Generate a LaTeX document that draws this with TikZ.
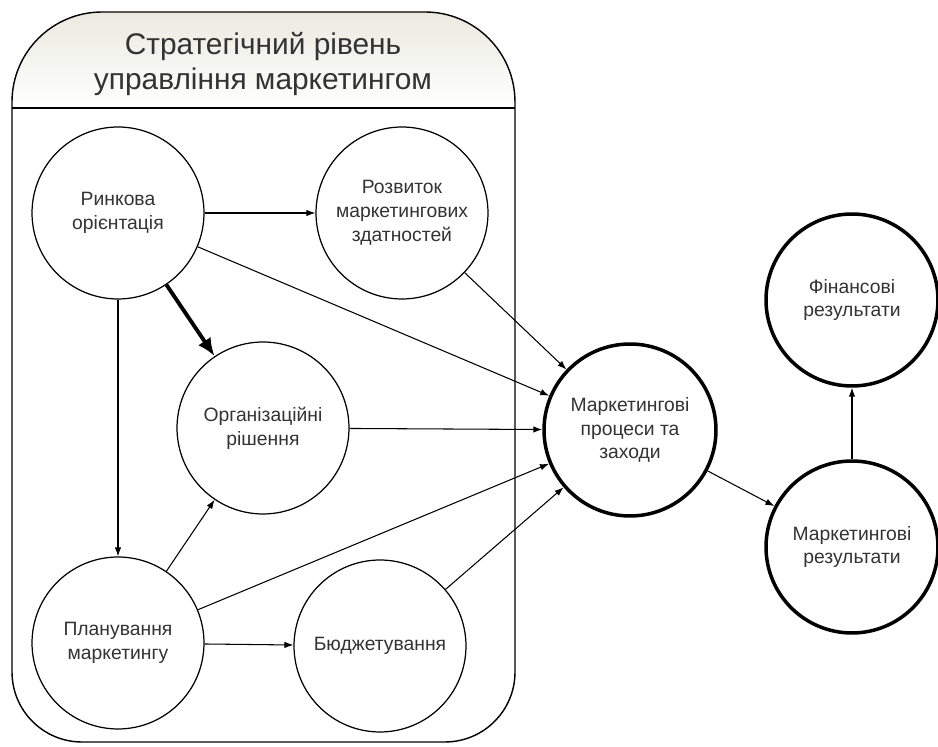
\documentclass[tikz,border=0pt]{standalone}
\usepackage{fontspec}
\setmainfont{Liberation Sans}
\usetikzlibrary{arrows.meta}
\definecolor{headbg}{RGB}{234,234,224}

\begin{document}
\begin{tikzpicture}[x=0.02cm, y=0.02cm,
	every node/.style={font=\fontsize{11}{13.5}\selectfont, text=black!80},
	stage/.style={circle, draw, fill=white, line width=0.7pt, minimum size=3.44cm, inner sep=0pt, align=center},
	result/.style={stage, line width=2pt},
	link/.style={-{Latex[length=1.8mm,width=1.3mm]}, line width=0.6pt},
	mainlink/.style={-{Latex[length=3.6mm,width=3mm]}, line width=2.2pt}]
	\useasboundingbox (0,0) rectangle (938,747);
	\shade[top color=headbg, bottom color=white] (12,639) -- (12,645) arc[start angle=180, end angle=90, radius=1.8cm] -- (425,735) arc[start angle=90, end angle=0, radius=1.8cm] -- (515,639) -- cycle;
	\draw[line width=0.8pt] (12,639) -- (12,645) arc[start angle=180, end angle=90, radius=1.8cm] -- (425,735) arc[start angle=90, end angle=0, radius=1.8cm] -- (515,75) arc[start angle=0, end angle=-90, radius=1.4cm] -- (82,5) arc[start angle=270, end angle=180, radius=1.4cm] -- cycle;
	\draw[line width=0.8pt] (12,639) -- (515,639);
	\node[font=\fontsize{17}{20}\selectfont, align=center] (title) at (263,683) {Стратегічний рівень\\управління маркетингом};

	\node[stage] (market) at (118,534) {Ринкова\\орієнтація};
	\node[stage] (capab) at (402,534) {Розвиток\\маркетингових\\здатностей};
	\node[stage] (org) at (263,319) {Організаційні\\рішення};
	\node[stage] (plan) at (118,104) {Планування\\маркетингу};
	\node[stage] (budget) at (380,101) {Бюджетування};
	\node[result] (proc) at (630,317) {Маркетингові\\процеси та\\заходи};
	\node[result] (mres) at (852,200) {Маркетингові\\результати};
	\node[result] (fin) at (852,447) {Фінансові\\результати};

	\draw[link] (market) -- (capab);
	\draw[link] (market) -- (proc);
	\draw[mainlink] (market) -- (org);
	\draw[link] (market) -- (plan);
	\draw[link] (capab) -- (proc);
	\draw[link] (org) -- (proc);
	\draw[link] (plan) -- (org);
	\draw[link] (plan) -- (proc);
	\draw[link] (plan) -- (budget);
	\draw[link] (budget) -- (proc);
	\draw[link] (proc) -- (mres);
	\draw[link] (mres) -- (fin);
\end{tikzpicture}
\end{document}
